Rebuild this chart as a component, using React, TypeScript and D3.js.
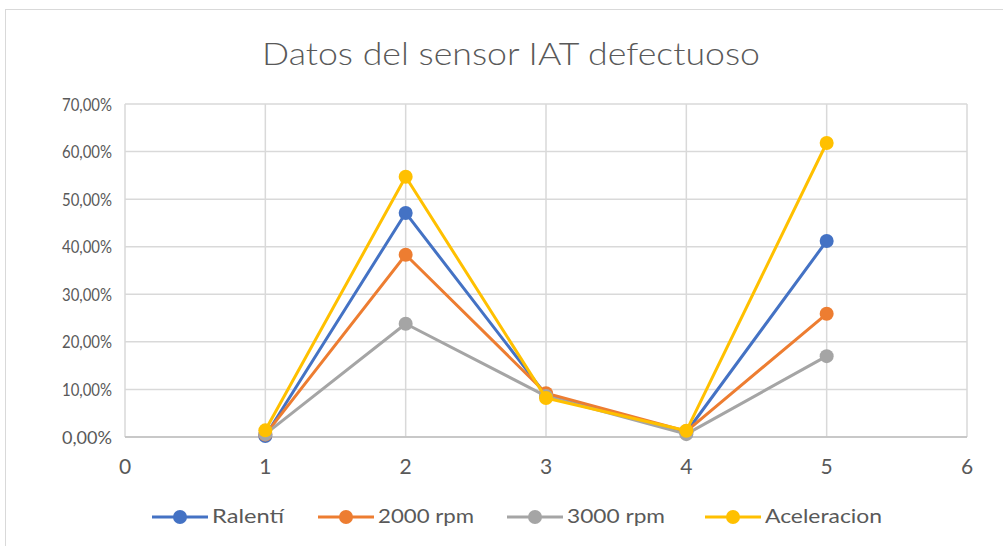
import React from "react";
import * as d3 from "d3";

const xValues = [1, 2, 3, 4, 5];
const seriesNames = ["Ralentí", "2000 rpm", "3000 rpm", "Aceleracion"];
const ralenti = [0.002, 0.471, 0.088, 0.010, 0.412];
const rpm2000 = [0.005, 0.383, 0.092, 0.012, 0.259];
const rpm3000 = [0.006, 0.238, 0.086, 0.006, 0.170];
const aceleracion = [0.014, 0.547, 0.082, 0.013, 0.618];
const seriesColors = ["#4472C4", "#ED7D31", "#A5A5A5", "#FFC000"];
const xTicks = [0, 1, 2, 3, 4, 5, 6];
const yTicks = [0, 0.1, 0.2, 0.3, 0.4, 0.5, 0.6, 0.7];
const title = "Datos del sensor IAT defectuoso";

const W = 1003;
const H = 546;
const font = "Lato, 'Noto Sans', sans-serif";

export default function App() {
  const x = d3.scaleLinear().domain([0, 6]).range([125, 967]);
  const y = d3.scaleLinear().domain([0, 0.7]).range([437, 104]);
  const all = [ralenti, rpm2000, rpm3000, aceleracion];
  const line = d3
    .line<number>()
    .x((_, i) => x(xValues[i]))
    .y((d) => y(d));
  const fmt = (v: number) => (v * 100).toFixed(2).replace(".", ",") + "%";
  const legendX = [152, 318, 507, 705];
  const legendW = [72, 96, 98, 117];
  return (
    <svg
      width={W}
      height={H}
      style={{ position: "absolute", left: 0, top: 0, background: "#fff" }}
    >
      <rect x={5.5} y={9.5} width={1100} height={600} fill="#fff" stroke="#d9d9d9" strokeWidth={1} />
      <text
        x={262}
        y={65}
        fontFamily={font}
        fontSize={31}
        fontWeight={300}
        fill="#595959"
        textLength={498}
        lengthAdjust="spacingAndGlyphs"
      >
        {title}
      </text>
      {yTicks.map((t) => (
        <g key={"y" + t}>
          <line x1={x(0)} x2={x(6)} y1={y(t)} y2={y(t)} stroke="#d9d9d9" strokeWidth={1.5} />
          <text
            x={62}
            y={y(t) + 6.5}
            fontFamily={font}
            fontSize={18}
            fill="#595959"
            textLength={50}
            lengthAdjust="spacingAndGlyphs"
          >
            {fmt(t)}
          </text>
        </g>
      ))}
      {xTicks.map((t) => (
        <g key={"x" + t}>
          <line x1={x(t)} x2={x(t)} y1={y(0)} y2={y(0.7)} stroke="#d9d9d9" strokeWidth={1.5} />
          <text x={x(t)} y={474} textAnchor="middle" fontFamily={font} fontSize={21} fill="#595959">
            {t}
          </text>
        </g>
      ))}
      <line x1={x(0)} x2={x(6)} y1={y(0)} y2={y(0)} stroke="#bfbfbf" strokeWidth={1.5} />
      {all.map((s, si) => (
        <g key={"s" + si}>
          <path d={line(s) || ""} fill="none" stroke={seriesColors[si]} strokeWidth={3} strokeLinejoin="round" />
          {s.map((v, i) => (
            <circle key={i} cx={x(xValues[i])} cy={y(v)} r={7} fill={seriesColors[si]} />
          ))}
        </g>
      ))}
      {seriesNames.map((n, i) => (
        <g key={"l" + i}>
          <line x1={legendX[i]} x2={legendX[i] + 56} y1={517} y2={517} stroke={seriesColors[i]} strokeWidth={3} />
          <circle cx={legendX[i] + 28} cy={517} r={7} fill={seriesColors[i]} />
          <text
            x={legendX[i] + 60}
            y={523}
            fontFamily={font}
            fontSize={19}
            fill="#595959"
            textLength={legendW[i]}
            lengthAdjust="spacingAndGlyphs"
          >
            {n}
          </text>
        </g>
      ))}
    </svg>
  );
}
